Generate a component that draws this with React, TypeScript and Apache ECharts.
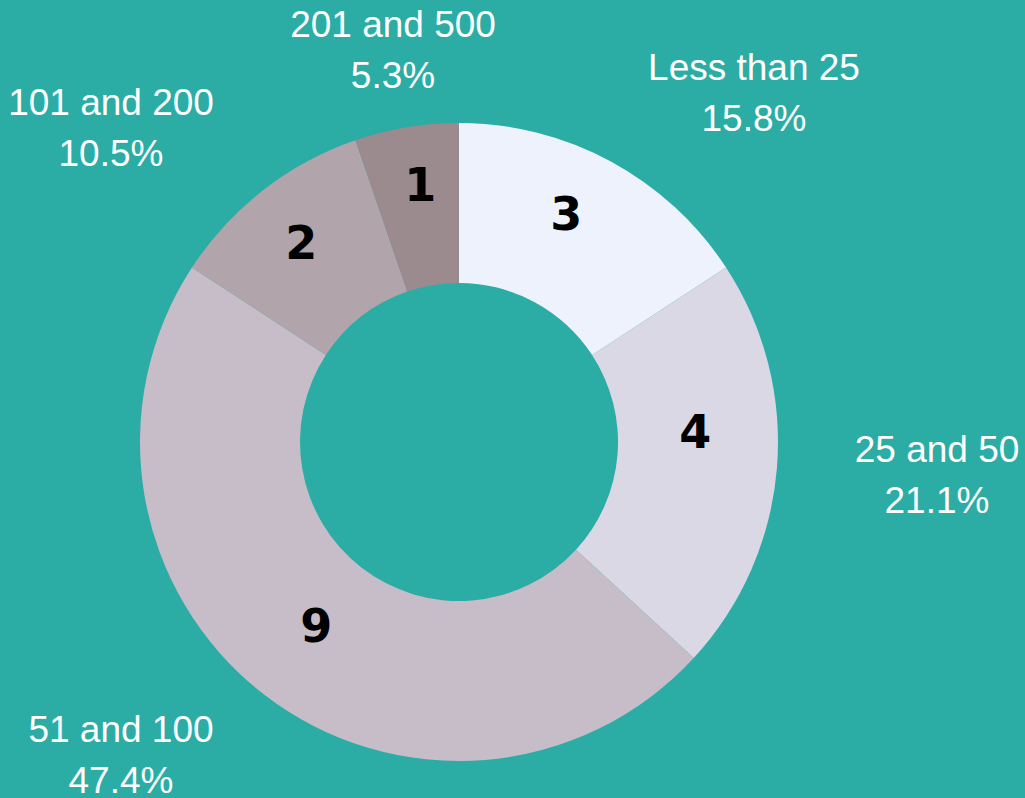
import React, { useEffect, useRef } from "react";
import * as echarts from "echarts";

const categories = ["Less than 25", "25 and 50", "51 and 100", "101 and 200", "201 and 500"];
const counts = [3, 4, 9, 2, 1];
const sliceColors = ["#edf2fd", "#d9d8e4", "#c6bdc8", "#b1a5ab", "#9b8a8e"];

const BG = "#2bada5";

export default function App() {
  const ref = useRef<HTMLDivElement>(null);
  useEffect(() => {
    document.body.style.margin = "0";
    const chart = echarts.init(ref.current!, null, { renderer: "svg" });
    const total = counts.reduce((a, b) => a + b, 0);
    const data = categories.map((name, i) => ({
      name,
      value: counts[i],
      itemStyle: { color: sliceColors[i] },
    }));
    // label placement tweaks (layout only)
    const innerShift = [
      [-8, -15],
      [-5, -30],
      [6, -7],
      [-9, -8],
      [1, -18],
    ];
    const outerPos = [
      [754, 93],
      [937, 475],
      [121, 755],
      [111, 128],
      [393, 50],
    ];
    chart.setOption({
      animation: false,
      backgroundColor: BG,
      series: [
        {
          type: "pie",
          center: [459, 442],
          radius: [159, 319],
          startAngle: 90,
          clockwise: true,
          data,
          itemStyle: { borderWidth: 0 },
          label: {
            show: true,
            position: "inside",
            formatter: "{c}",
            color: "#000",
            fontFamily: "DejaVu Sans",
            fontWeight: 900,
            fontSize: 46,
          },
          labelLine: { show: false },
          labelLayout: (p: any) => ({
            dx: innerShift[p.dataIndex][0],
            dy: innerShift[p.dataIndex][1],
          }),
          emphasis: { disabled: true },
        },
        {
          type: "pie",
          center: [459, 442],
          radius: [159, 319],
          startAngle: 90,
          clockwise: true,
          silent: true,
          data: categories.map((name, i) => ({ name, value: counts[i] })),
          itemStyle: { color: "rgba(0,0,0,0)", borderWidth: 0 },
          label: {
            show: true,
            position: "outside",
            formatter: (p: any) => `${p.name}\n${((p.value / total) * 100).toFixed(1)}%`,
            color: "#ffffff",
            fontFamily: "Liberation Sans",
            fontSize: 37,
            lineHeight: 51,
            align: "center",
            width: 300,
            overflow: "none",
          },
          labelLine: { show: false },
          labelLayout: (p: any) => ({
            x: outerPos[p.dataIndex][0],
            y: outerPos[p.dataIndex][1],
            align: "center",
            verticalAlign: "middle",
          }),
          emphasis: { disabled: true },
        },
      ],
    });
    return () => chart.dispose();
  }, []);
  return (
    <div
      ref={ref}
      style={{ position: "fixed", left: 0, top: 0, width: 1025, height: 798 }}
    />
  );
}
